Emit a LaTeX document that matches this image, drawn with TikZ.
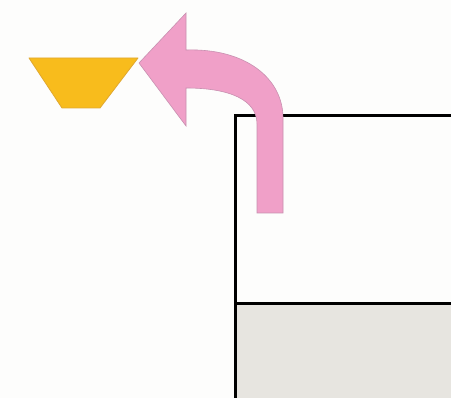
\documentclass[tikz,border=0pt]{standalone}
\definecolor{bowlfill}{HTML}{F8BC1C}
\definecolor{bowledge}{HTML}{E0A830}
\definecolor{arrowfill}{HTML}{F0A0C8}
\definecolor{arrowedge}{HTML}{C890B0}
\definecolor{shelf}{HTML}{E7E5E0}
\definecolor{bg}{HTML}{FDFDFC}
\tikzset{
  bowl/.style={fill=bowlfill, draw=bowledge, line width=0.8pt, line join=round},
  bentarrow/.style={fill=arrowfill, draw=arrowedge, line width=0.6pt, line join=miter},
  boxline/.style={draw=black, line width=3pt},
}
\begin{document}
\begin{tikzpicture}[x=1pt,y=-1pt]
  \fill[bg] (0,0) rectangle (451,398);
  \useasboundingbox (0,0) rectangle (451,398);
  % lower shelf area
  \fill[shelf] (236,305) rectangle (451,398);
  % box outline
  \draw[boxline] (451,116) -- (235,116) -- (235,398);
  \draw[boxline] (235,304) -- (451,304);
  % bowl (trapezoid)
  \draw[bowl] (29,58) -- (138,58) -- (100,108) -- (62,108) -- cycle;
  % bent arrow
  \draw[bentarrow] (186,50) .. controls (245,48) and (283,78) .. (283,118)
     -- (283,213) -- (257,213) -- (257,124)
     .. controls (257,100) and (230,88) .. (186,88)
     -- (186,126) -- (139,63) -- (186,13) -- cycle;
\end{tikzpicture}
\end{document}
